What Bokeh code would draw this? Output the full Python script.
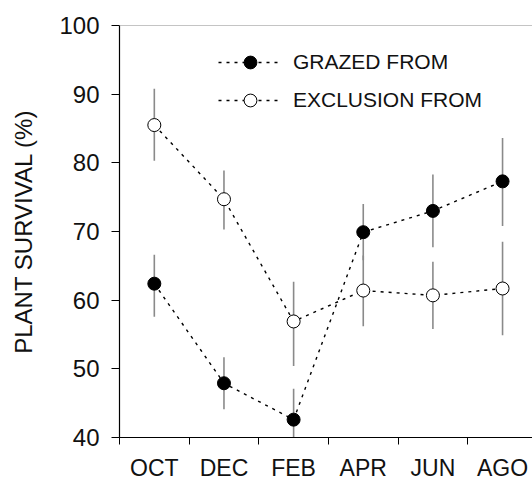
from bokeh.plotting import figure
from bokeh.models import (Range1d, FixedTicker, Legend, LegendItem, Span)
from bokeh.embed import file_html
from bokeh.resources import INLINE

months = ["OCT", "DEC", "FEB", "APR", "JUN", "AGO"]
grazed = [62.4, 47.9, 42.6, 69.9, 73.0, 77.3]
grazed_lo = [57.6, 44.1, 38.5, 65.8, 67.7, 70.8]
grazed_hi = [66.6, 51.7, 47.1, 74.0, 78.3, 83.6]
excl = [85.5, 74.7, 56.9, 61.4, 60.7, 61.7]
excl_lo = [80.3, 70.3, 50.4, 56.2, 55.8, 54.9]
excl_hi = [90.8, 78.9, 62.7, 66.5, 65.6, 68.5]
y_ticks = [40, 50, 60, 70, 80, 90, 100]

FONT = "Liberation Sans"
idx = list(range(len(months)))

p = figure(width=532, height=483, output_backend="svg", toolbar_location=None,
           x_range=Range1d(-0.5, 5.43), y_range=Range1d(40, 100),
           min_border_left=119, min_border_right=0, min_border_top=25,
           min_border_bottom=43)
p.grid.visible = False
p.outline_line_color = None
p.background_fill_color = "white"
p.border_fill_color = "white"

# error bars
p.segment(x0=idx, y0=grazed_lo, x1=idx, y1=grazed_hi, line_color="#8a8a8a", line_width=1.6)
p.segment(x0=idx, y0=excl_lo, x1=idx, y1=excl_hi, line_color="#8a8a8a", line_width=1.6)

lg = p.line(idx, grazed, line_color="black", line_width=1.4, line_dash="3 5")
le = p.line(idx, excl, line_color="black", line_width=1.4, line_dash="3 5")
sg = p.scatter(idx, grazed, size=13, marker="circle", fill_color="black", line_color="black", line_width=1)
se = p.scatter(idx, excl, size=13, marker="circle", fill_color="white", line_color="black", line_width=1)

p.add_layout(Span(location=100, dimension="width", line_color="#8a8a8a", line_width=1))

# x axis
xa = p.xaxis[0]
xa.ticker = FixedTicker(ticks=idx, minor_ticks=[i - 0.5 for i in range(len(months) + 1)])
xa.major_label_overrides = {i: m for i, m in zip(idx, months)}
xa.major_tick_line_color = None
xa.minor_tick_line_color = "black"
xa.minor_tick_out = 7
xa.minor_tick_in = 0
xa.axis_line_color = "black"
xa.axis_line_width = 1.2
xa.major_label_text_font = FONT
xa.major_label_text_font_size = "23px"
xa.major_label_text_color = "#111111"
xa.major_label_standoff = 10

ya = p.yaxis[0]
ya.ticker = FixedTicker(ticks=y_ticks)
ya.minor_tick_line_color = None
ya.major_tick_out = 8
ya.major_tick_in = 0
ya.major_tick_line_color = "black"
ya.axis_line_color = "black"
ya.axis_line_width = 1.2
ya.major_label_text_font = FONT
ya.major_label_text_font_size = "24px"
ya.major_label_text_color = "#111111"
ya.major_label_standoff = 12
ya.axis_label = "PLANT SURVIVAL (%)"
ya.axis_label_text_font = FONT
ya.axis_label_text_font_size = "24px"
ya.axis_label_text_font_style = "normal"
ya.axis_label_text_color = "#111111"
ya.axis_label_standoff = 19

legend = Legend(items=[LegendItem(label="GRAZED FROM", renderers=[lg, sg]),
                       LegendItem(label="EXCLUSION FROM", renderers=[le, se])],
                location=(99, 321), padding=0, margin=0, spacing=6,
                glyph_width=64, glyph_height=32, label_height=32,
                label_standoff=11, border_line_color=None,
                background_fill_alpha=0,
                label_text_font=FONT, label_text_font_size="21px",
                label_text_color="#111111")
p.add_layout(legend)

open("out.html", "w").write(file_html(p, INLINE))
